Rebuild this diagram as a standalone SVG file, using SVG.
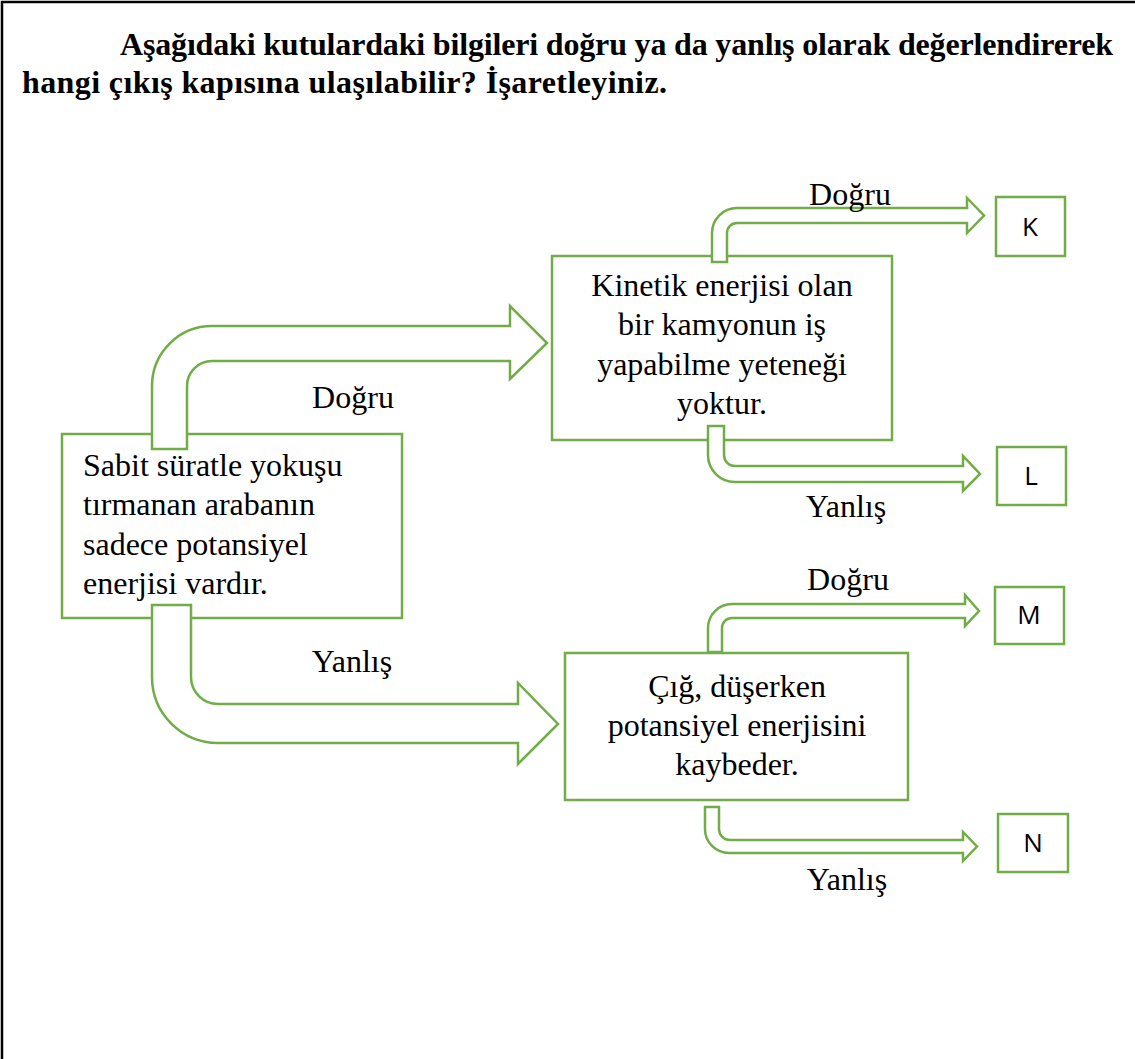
<svg xmlns="http://www.w3.org/2000/svg" width="1135" height="1059" viewBox="0 0 1135 1059">
<style>
.box{fill:#fff;stroke:#70AD47;stroke-width:2.5}
.arr{fill:#fff;stroke:#70AD47;stroke-width:2.5;stroke-linejoin:miter}
.t{font-family:"Liberation Serif","Times New Roman",serif;font-size:32px;fill:#000}
.title{font-family:"Liberation Serif","Times New Roman",serif;font-size:32px;font-weight:bold;fill:#000}
.lbl{font-family:"Liberation Serif","Times New Roman",serif;font-size:32px;fill:#000;text-anchor:middle}
.g{font-family:"Open Sans","Liberation Sans",Arial,sans-serif;font-size:26px;fill:#000;text-anchor:middle}
</style>
<rect x="2" y="2" width="1145" height="1080" fill="#fff" stroke="#000" stroke-width="2.5"/>
<g id="title">
<text class="title" x="120" y="55" textLength="993" lengthAdjust="spacing">Aşağıdaki kutulardaki bilgileri doğru ya da yanlış olarak değerlendirerek</text>
<text class="title" x="22" y="93" textLength="645" lengthAdjust="spacing">hangi çıkış kapısına ulaşılabilir? İşaretleyiniz.</text>
</g>
<g id="node-sabit">
<rect class="box" x="62" y="434" width="340" height="184"/>
<text class="t" x="83" y="476">Sabit süratle yokuşu</text>
<text class="t" x="83" y="515">tırmanan arabanın</text>
<text class="t" x="83" y="555">sadece potansiyel</text>
<text class="t" x="83" y="594">enerjisi vardır.</text>
</g>
<g id="node-kinetik">
<rect class="box" x="552" y="256" width="340" height="184"/>
<text class="lbl" x="722" y="296">Kinetik enerjisi olan</text>
<text class="lbl" x="722" y="335">bir kamyonun iş</text>
<text class="lbl" x="722" y="375">yapabilme yeteneği</text>
<text class="lbl" x="722" y="414">yoktur.</text>
</g>
<g id="node-cig">
<rect class="box" x="565" y="653" width="343" height="147"/>
<text class="lbl" x="737" y="697">Çığ, düşerken</text>
<text class="lbl" x="737" y="736">potansiyel enerjisini</text>
<text class="lbl" x="737" y="775">kaybeder.</text>
</g>
<g id="node-K"><rect class="box" x="996" y="197" width="69" height="59"/><text class="g" x="1030" y="236">K</text></g>
<g id="node-L"><rect class="box" x="997" y="447" width="69" height="58"/><text class="g" x="1031" y="485">L</text></g>
<g id="node-M"><rect class="box" x="995" y="587" width="69" height="57"/><text class="g" x="1029" y="624">M</text></g>
<g id="node-N"><rect class="box" x="998" y="814" width="70" height="58"/><text class="g" x="1033" y="852">N</text></g>
<g id="connectors">
<path class="arr" d="M152,449 L152,386 A60,60 0 0 1 212,326 L510,326 L510,306 L547,343 L510,379 L510,361 L212,361 A25,25 0 0 0 187,386 L187,449 Z"/>
<path class="arr" d="M152,605 L191,605 L191,677 A27,27 0 0 0 218,704 L518,704 L518,683 L558,724 L518,764 L518,743 L218,743 A66,66 0 0 1 152,677 Z"/>
<path class="arr" d="M712,262 L712,233 A25,25 0 0 1 737,208 L967,208 L967,198 L984,215.5 L967,233 L967,223 L737,223 A10,10 0 0 0 727,233 L727,262 Z"/>
<path class="arr" d="M708,426 L724,426 L724,455 A11,11 0 0 0 735,466 L963,466 L963,456 L980,474 L963,491 L963,482 L735,482 A27,27 0 0 1 708,455 Z"/>
<path class="arr" d="M708,652 L708,628 A24,24 0 0 1 732,604 L965,604 L965,595 L979,611 L965,626 L965,618 L732,618 A10,10 0 0 0 722,628 L722,652 Z"/>
<path class="arr" d="M705,807 L719,807 L719,829 A11,11 0 0 0 730,840 L963,840 L963,832 L977,846.5 L963,861 L963,853 L729,853 A24,24 0 0 1 705,829 Z"/>
</g>
<g id="labels">
<text class="lbl" x="353" y="408">Doğru</text>
<text class="lbl" x="352" y="672">Yanlış</text>
<text class="lbl" x="850" y="205">Doğru</text>
<text class="lbl" x="846" y="517">Yanlış</text>
<text class="lbl" x="848" y="590">Doğru</text>
<text class="lbl" x="847" y="890">Yanlış</text>
</g>
</svg>
